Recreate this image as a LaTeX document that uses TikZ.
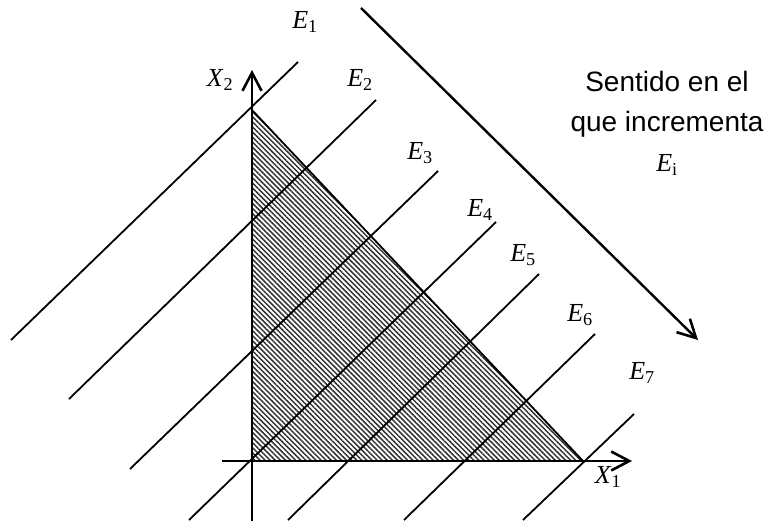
\documentclass[tikz,border=0pt]{standalone}
\usepackage{fontspec}
\setmainfont{Liberation Serif}
\setsansfont{Liberation Sans}
\usetikzlibrary{arrows.meta, patterns.meta}

\begin{document}
\begin{tikzpicture}[x=1pt, y=-1pt,
    every node/.style={font=\fontsize{26}{30}\selectfont, inner sep=0pt},
    level/.style={line width=1.8pt},
    axis/.style={line width=2.8pt, -{Straight Barb[length=18pt, width=19pt, line width=2.6pt]}},
    region/.style={pattern={Lines[angle=-45, distance=3.6pt, line width=1.5pt]}, pattern color=black!80},
    note/.style={font=\sffamily\fontsize{28}{40}\selectfont, align=center}]
  \useasboundingbox (0,0) rectangle (770,521);

  % feasible region
  \coordinate (o) at (252,461);
  \coordinate (a) at (252,110);
  \coordinate (b) at (583,461);
  \fill[region] (o) -- (a) -- (b) -- cycle;
  \draw[level] (a) -- (b);

  % iso-lines E1..E7
  \draw[level] (11,340) -- (298,62);
  \draw[level] (69,399) -- (376,100);
  \draw[level] (130,469) -- (438,171);
  \draw[level] (189,520) -- (496,222);
  \draw[level] (288,520) -- (539,274);
  \draw[level] (404,520) -- (595,334);
  \draw[level] (523,520) -- (634,414);

  \node (e1) at (305,22) {\textit{E}\textsubscript{1}};
  \node (e2) at (360,80) {\textit{E}\textsubscript{2}};
  \node (e3) at (420,153) {\textit{E}\textsubscript{3}};
  \node (e4) at (480,210) {\textit{E}\textsubscript{4}};
  \node (e5) at (523,255) {\textit{E}\textsubscript{5}};
  \node (e6) at (580,315) {\textit{E}\textsubscript{6}};
  \node (e7) at (642,373) {\textit{E}\textsubscript{7}};

  % axes
  \coordinate (xs) at (222,461);
  \coordinate (xe) at (632,461);
  \coordinate (ys) at (252,521);
  \coordinate (ye) at (252,70);
  \draw[axis] (xs) -- (xe);
  \draw[axis] (ys) -- (ye);
  \node (x1) at (608,477) {\textit{X}\textsubscript{1}};
  \node (x2) at (220,80) {\textit{X}\textsubscript{2}};

  % direction of increase
  \coordinate (ds) at (361,8);
  \coordinate (de) at (698,340);
  \draw[axis, line width=2.4pt] (ds) -- (de);
  \node[note, anchor=north] (sentido) at (667,71) {Sentido en el\\que incrementa\\\rmfamily\fontsize{26}{30}\selectfont\textit{E}\textsubscript{i}};
\end{tikzpicture}
\end{document}
